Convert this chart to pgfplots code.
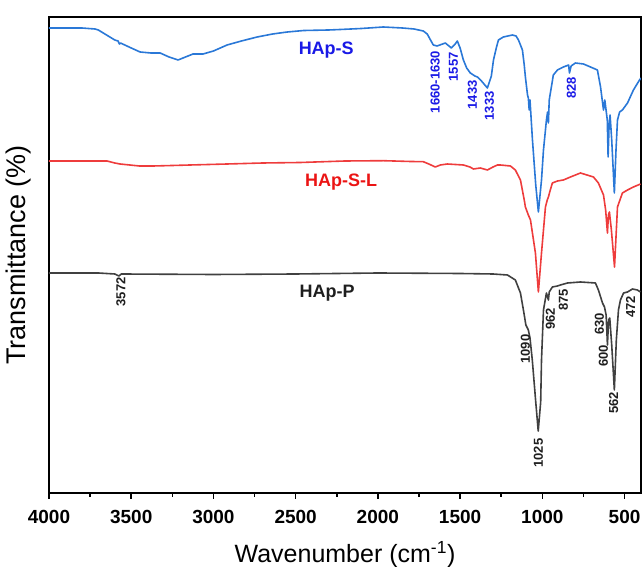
\documentclass[border=0pt]{standalone}
\usepackage{fontspec}
\setmainfont{Liberation Sans}
\usepackage{pgfplots}
\pgfplotsset{compat=1.18}
\definecolor{cblue}{RGB}{42,120,215}
\definecolor{lblue}{RGB}{25,25,230}
\definecolor{cred}{RGB}{238,60,60}
\definecolor{lred}{RGB}{235,20,20}
\definecolor{cgray}{RGB}{64,64,64}
\definecolor{lgray}{RGB}{30,30,30}
\begin{document}
\begin{tikzpicture}[x=1pt,y=1pt]
\useasboundingbox (-49,-74) rectangle (594,493);
\begin{axis}[at={(0,0)},anchor=south west,scale only axis,
  width=592pt,height=476pt,
  x dir=reverse,xmin=400,xmax=4000,ymin=0,ymax=476,
  xtick={500,1000,...,4000},minor x tick num=1,
  ytick=\empty,xtick pos=bottom,tick align=outside,
  major tick length=6pt,minor tick length=4pt,
  axis line style={line width=1.5pt,black},
  every tick/.style={line width=1.5pt,black},
  /pgf/number format/assume math mode=true,
  /pgf/number format/1000 sep={},
  xticklabel style={font=\bfseries\fontsize{19}{19}\selectfont,yshift=-8pt},
  every axis x label/.style={at={(axis description cs:0.5,0)},anchor=center,yshift=-62pt,font=\fontsize{25}{25}\selectfont},
  every axis y label/.style={at={(axis description cs:-0.052,0.5)},anchor=center,rotate=90,font=\fontsize{27}{27}\selectfont},
  xlabel={Wavenumber (cm\textsuperscript{-1})},
  ylabel={Transmittance (\%)},
  every axis plot/.style={line width=1.6pt,mark=none,line join=round},
]
% HAp-S
\addplot[cblue] coordinates {
(4000,465)(3800,465)(3720,464)(3700,463)(3650,458)(3600,453)(3580,452)(3572,449)(3565,450)
(3500,445)(3446,441)(3380,440)(3324,440)(3270,436)(3215,433)(3170,436)(3124,439)(3063,439)
(3000,442)(2917,448)(2830,452)(2734,456)(2640,459)(2551,461)(2450,462.5)(2300,463)(2229,463.5)
(2100,464.5)(1967,466)(1850,465)(1780,464)(1724,462)(1700,459)(1680,453)(1663,448)(1640,447)
(1590,450)(1553,445)(1530,449)(1517,452)(1500,445)(1480,433)(1460,425)(1438,420)(1410,417)
(1395,416)(1370,412)(1334,405)(1310,417)(1297,433)(1280,445)(1267,453)(1237,456)(1182,458)
(1160,457)(1145,453)(1121,443)(1110,428)(1103,416)(1090,398)(1085,395)(1080,383)(1075,393)
(1060,353)(1040,308)(1024,281)(1005,313)(993,343)(975,373)(968,381)(963,370)(958,393)
(951,400)(933,418)(908,423)(872,426)(840,428)(835,420)(825,427)(799,430)(750,429)(707,426)
(665,423)(646,406)(628,383)(620,393)(605,373)(600,336)(594,368)(588,378)(578,353)(562,300)
(552,343)(543,373)(530,381)(513,383)(482,390)(446,403)(409,413)(400,415)
};
% HAp-S-L
\addplot[cred] coordinates {
(4000,332)(3700,332)(3647,332)(3600,330)(3568,329)(3450,327)(3367,327)(3250,327.5)(3142,328)
(2917,329)(2700,330)(2472,330.5)(2200,332)(1967,332.3)(1800,331.5)(1724,331.3)(1690,329)
(1651,326)(1620,328)(1578,329)(1480,328)(1440,326)(1419,324)(1377,325)(1334,323)(1300,326)
(1273,328)(1255,328)(1194,327)(1164,323)(1133,313)(1110,293)(1103,286)(1085,278)(1072,273)
(1042,240)(1024,201)(1005,240)(981,286)(970,293)(963,296)(955,301)(939,310)(908,312)
(872,313)(829,316)(768,320)(689,316)(659,310)(628,298)(615,283)(604,260)(598,278)(592,281)
(580,263)(561,226)(543,286)(513,300)(482,303)(446,306)(403,309)
};
% HAp-P
\addplot[cgray] coordinates {
(4000,220)(3700,220)(3600,219)(3575,217)(3560,219)(3000,218.5)(2500,219)(2000,220)(1500,219.5)
(1300,219)(1212,218)(1164,213)(1133,200)(1115,183)(1100,168)(1091,165)(1085,163)(1075,155)
(1061,133)(1040,91)(1025,62)(1010,91)(1005,133)(993,183)(975,200)(963,193)(958,201)(939,206)
(908,207)(890,208)(847,210)(768,211)(677,210)(659,203)(634,190)(622,186)(612,178)(604,148)
(597,173)(590,175)(578,148)(562,103)(550,153)(537,183)(525,193)(506,200)(482,201)(452,204)
(422,203)(403,201)
};
\begin{scope}[every node/.style={font=\bfseries\fontsize{18}{18}\selectfont,inner sep=0pt}]
\node[text=lblue] at (axis cs:2314,443) {HAp-S};
\node[text=lred] at (axis cs:2223,311) {HAp-S-L};
\node[text=lgray] at (axis cs:2308,200) {HAp-P};
\end{scope}
\begin{scope}[every node/.style={rotate=90,font=\bfseries\fontsize{13}{13}\selectfont,inner sep=0pt}]
\node[text=lblue] at (axis cs:1651,411) {1660-1630};
\node[text=lblue] at (axis cs:1541,426) {1557};
\node[text=lblue] at (axis cs:1425,398) {1433};
\node[text=lblue] at (axis cs:1322,387) {1333};
\node[text=lblue] at (axis cs:823,405) {828};
\node[text=lgray] at (axis cs:3562,201) {3572};
\node[text=lgray] at (axis cs:1103,144) {1090};
\node[text=lgray] at (axis cs:1024,40) {1025};
\node[text=lgray] at (axis cs:951,174) {962};
\node[text=lgray] at (axis cs:872,193) {875};
\node[text=lgray] at (axis cs:653,169) {630};
\node[text=lgray] at (axis cs:628,137) {600};
\node[text=lgray] at (axis cs:567,90) {562};
\node[text=lgray] at (axis cs:464,186) {472};
\end{scope}
\end{axis}
\end{tikzpicture}
\end{document}
